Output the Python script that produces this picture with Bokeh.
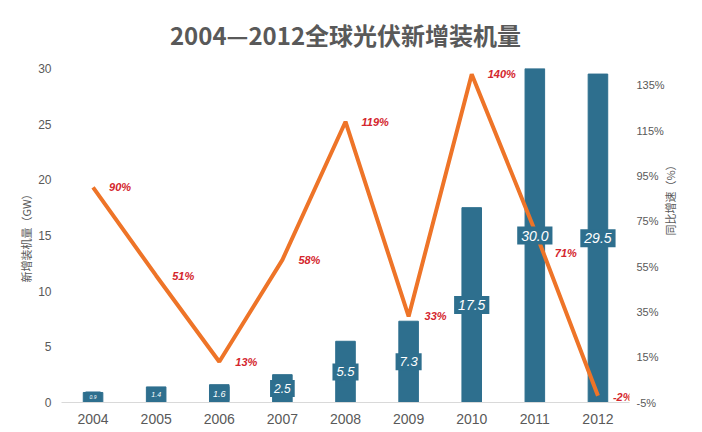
import math
from bokeh.plotting import figure
from bokeh.models import (ColumnDataSource, Range1d, LinearAxis, FixedTicker,
                          PrintfTickFormatter)
from bokeh.core.properties import value
from bokeh.embed import file_html
from bokeh.resources import INLINE

# ---- data ----
years = ["2004", "2005", "2006", "2007", "2008", "2009", "2010", "2011", "2012"]
installed_gw = [0.9, 1.4, 1.6, 2.5, 5.5, 7.3, 17.5, 30.0, 29.5]
growth_pct = [90, 51, 13, 58, 119, 33, 140, 71, -2]
left_ticks = [0, 5, 10, 15, 20, 25, 30]
pct_ticks = [-5, 15, 35, 55, 75, 95, 115, 135]

# ---- styles (kept separate from data) ----
bar_label_px = ["5px", "7px", "9px", "12px", "13px", "13px", "14px", "14px", "14px"]
pct_label_dx = [16, 16, 16, 16, 16, 16, 16, 20, 15]
pct_label_dy = [0, 0, 0, 0, 0, 0, 0, 23, 1]

FONT = "Liberation Sans"
CJK = "Noto Sans CJK SC"
GREY = "#595959"
BAR = "#2e6f8e"
ORANGE = "#ee7428"
RED = "#d4262d"

bar_src = ColumnDataSource(dict(
    x=years, top=installed_gw,
    mid=[v / 2 for v in installed_gw],
    lab=[f"{v:.1f}" for v in installed_gw],
    fs=bar_label_px,
))
pct_src = ColumnDataSource(dict(
    x=years, y=growth_pct,
    lab=[f"{v}%" for v in growth_pct],
    dx=pct_label_dx, dy=pct_label_dy,
))

p = figure(frame_width=568, frame_height=334, x_range=years, y_range=Range1d(0, 30),
           output_backend="svg", toolbar_location=None,
           min_border_left=61, min_border_right=58,
           min_border_top=68, min_border_bottom=20)
p.extra_y_ranges = {"pct": Range1d(-5, 142.5)}

p.title.text = "2004\u20142012全球光伏新增装机量"
p.title.align = "center"
p.title.vertical_align = "top"
p.title.text_font = CJK
p.title.text_font_size = "24px"
p.title.text_color = GREY
p.title.text_font_style = "bold"
p.title.standoff = 29

p.outline_line_color = None
p.xgrid.visible = False
p.ygrid.visible = False

p.vbar(x="x", top="top", width=0.31, source=bar_src, color=BAR)
p.line(x="x", y="y", source=pct_src, y_range_name="pct",
       line_color=ORANGE, line_width=4)
p.text(x="x", y="mid", text="lab", source=bar_src,
       text_font=value(FONT), text_font_size="fs", text_font_style="italic",
       text_color="white", text_align="center", text_baseline="middle",
       background_fill_color=BAR, padding=4)
p.text(x="x", y="y", text="lab", source=pct_src, y_range_name="pct",
       x_offset="dx", y_offset="dy",
       text_font=value(FONT), text_font_size="11px", text_font_style="bold italic",
       text_color=RED, text_align="left", text_baseline="middle")

# x axis
xa = p.xaxis[0]
xa.axis_line_color = "#d9d9d9"
xa.axis_line_width = 1
xa.major_tick_line_color = None
xa.minor_tick_line_color = None
xa.major_label_text_font = FONT
xa.major_label_text_font_size = "14px"
xa.major_label_text_color = GREY
xa.major_label_standoff = 5

# left axis
ya = p.yaxis[0]
ya.ticker = FixedTicker(ticks=left_ticks)
ya.axis_line_color = None
ya.major_tick_line_color = None
ya.minor_tick_line_color = None
ya.major_tick_out = 0
ya.minor_tick_out = 0
ya.major_label_text_font = FONT
ya.major_label_text_font_size = "12px"
ya.major_label_text_color = GREY
ya.major_label_standoff = 10
ya.axis_label = "新增装机量（GW）"
ya.axis_label_text_font = CJK
ya.axis_label_text_font_size = "11px"
ya.axis_label_text_font_style = "normal"
ya.axis_label_text_color = GREY
ya.axis_label_standoff = 1

# right axis
ra = LinearAxis(y_range_name="pct", ticker=FixedTicker(ticks=pct_ticks),
                formatter=PrintfTickFormatter(format="%d%%"))
ra.axis_line_color = None
ra.major_tick_line_color = None
ra.minor_tick_line_color = None
ra.major_tick_out = 0
ra.minor_tick_out = 0
ra.major_label_text_font = FONT
ra.major_label_text_font_size = "11px"
ra.major_label_text_color = GREY
ra.major_label_standoff = 7
ra.axis_label = "同比增速（%）"
ra.axis_label_text_font = CJK
ra.axis_label_text_font_size = "11px"
ra.axis_label_text_font_style = "normal"
ra.axis_label_text_color = GREY
ra.axis_label_standoff = 2
try:
    ra.axis_label_orientation = math.pi / 2
except Exception:
    pass
p.add_layout(ra, "right")

open("out.html", "w").write(file_html(p, INLINE))
